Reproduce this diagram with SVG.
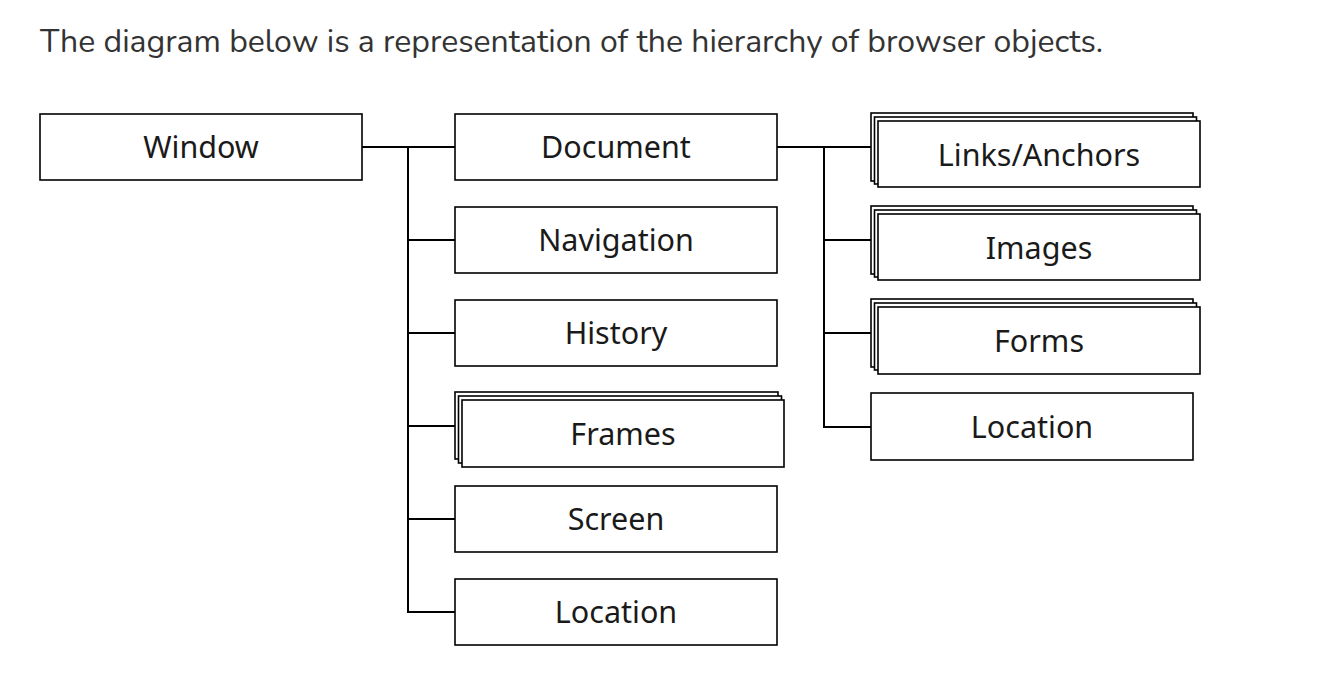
<svg xmlns="http://www.w3.org/2000/svg" width="1332" height="690" viewBox="0 0 1332 690">
<style>
.b{fill:#fff;stroke:#000;stroke-width:1.6}
.t{font-family:"Noto Sans","Open Sans",sans-serif;font-size:30.5px;fill:#1a1a1a;text-anchor:middle}
.c{fill:none;stroke:#000;stroke-width:2}
.h{font-family:"Nunito","Noto Sans",sans-serif;font-size:31.5px;fill:#333}
</style>
<rect width="1332" height="690" fill="#fff"/>
<text class="h" x="40" y="52" textLength="1063" lengthAdjust="spacingAndGlyphs">The diagram below is a representation of the hierarchy of browser objects.</text>
<g id="connectors">
<path class="c" d="M362 147H455M408 147V612H455M408 240H455M408 333H455M408 426H455M408 519H455"/>
<path class="c" d="M777 147H871M824 147V427H871M824 240H871M824 333H871"/>
</g>
<g id="window"><rect class="b" x="40" y="114" width="322" height="66"/><text class="t" x="201" y="158">Window</text></g>
<g id="document"><rect class="b" x="455" y="114" width="322" height="66"/><text class="t" x="616" y="158">Document</text></g>
<g id="navigation"><rect class="b" x="455" y="207" width="322" height="66"/><text class="t" x="616" y="251">Navigation</text></g>
<g id="history"><rect class="b" x="455" y="300" width="322" height="66"/><text class="t" x="616" y="344">History</text></g>
<g id="frames"><rect class="b" x="455" y="392" width="323" height="67"/><rect class="b" x="458.5" y="396" width="323" height="67"/><rect class="b" x="462" y="400" width="322" height="67"/><text class="t" x="623" y="445">Frames</text></g>
<g id="screen"><rect class="b" x="455" y="486" width="322" height="66"/><text class="t" x="616" y="530">Screen</text></g>
<g id="location1"><rect class="b" x="455" y="579" width="322" height="66"/><text class="t" x="616" y="623">Location</text></g>
<g id="links"><rect class="b" x="871" y="113" width="322" height="68"/><rect class="b" x="874.5" y="117" width="322" height="67"/><rect class="b" x="878" y="121" width="322" height="66"/><text class="t" x="1039" y="166">Links/Anchors</text></g>
<g id="images"><rect class="b" x="871" y="206" width="322" height="68"/><rect class="b" x="874.5" y="210" width="322" height="67"/><rect class="b" x="878" y="214" width="322" height="66"/><text class="t" x="1039" y="259">Images</text></g>
<g id="forms"><rect class="b" x="871" y="299" width="322" height="68"/><rect class="b" x="874.5" y="303" width="322" height="67"/><rect class="b" x="878" y="307" width="322" height="67"/><text class="t" x="1039" y="352">Forms</text></g>
<g id="location2"><rect class="b" x="871" y="393" width="322" height="67"/><text class="t" x="1032" y="438">Location</text></g>
</svg>
